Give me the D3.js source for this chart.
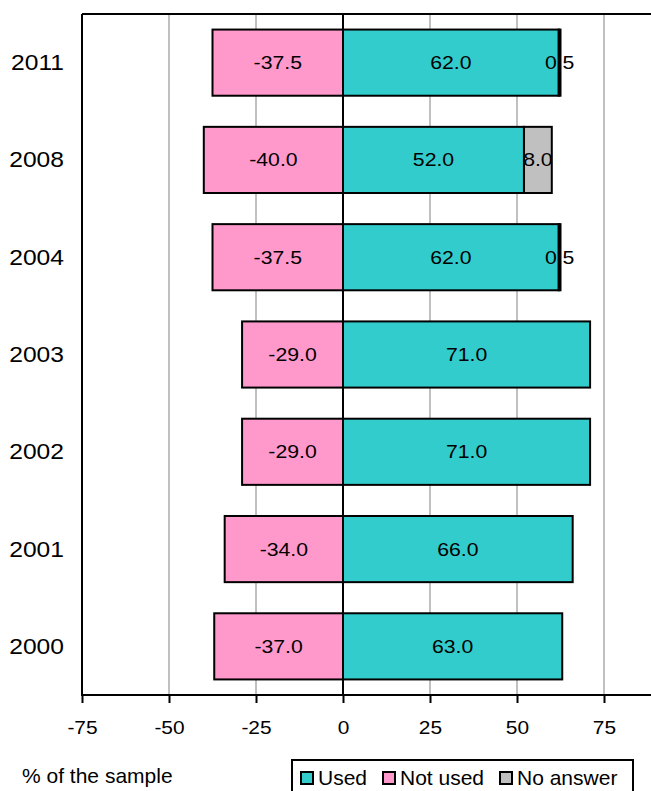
<!DOCTYPE html>
<html><head><meta charset="utf-8">
<script src="https://cdn.jsdelivr.net/npm/d3@7"></script>
<style>body{margin:0;background:#fff}svg{display:block;font-family:"Liberation Sans",Arial,sans-serif}</style>
</head><body>
<svg id="c" width="651" height="791"></svg>
<script>
const years = ["2011","2008","2004","2003","2002","2001","2000"];
const used = [62.0, 52.0, 62.0, 71.0, 71.0, 66.0, 63.0];
const notUsed = [-37.5, -40.0, -37.5, -29.0, -29.0, -34.0, -37.0];
const noAnswer = [0.5, 8.0, 0.5, 0, 0, 0, 0];
const xTicks = [-75, -50, -25, 0, 25, 50, 75];
const seriesNames = ["Used", "Not used", "No answer"];
const colors = {"Used":"#33cccc","Not used":"#ff99cc","No answer":"#c0c0c0"};

const svg = d3.select("#c");
const mLeft = 82, mTop = 14, mBottom = 695;
const x = d3.scaleLinear().domain([-75, 90]).range([mLeft, mLeft + 165 * 3.48]);
const y = d3.scaleBand().domain(years).range([mTop, mBottom]).paddingInner(0.32).paddingOuter(0.16);
const fmt1 = v => d3.format(".1f")(v).replace("\u2212", "-");
const fmt0 = v => d3.format("d")(v).replace("\u2212", "-");

// gridlines
svg.append("g").selectAll("line").data(xTicks.filter(d => d !== 0 && d !== -75)).join("line")
  .attr("x1", d => x(d)).attr("x2", d => x(d)).attr("y1", mTop).attr("y2", mBottom)
  .attr("stroke", "#c0c0c0").attr("stroke-width", 2);

// segments
const segs = [];
years.forEach((yr, i) => {
  segs.push({yr, s:"Not used", x0: notUsed[i], x1: 0, v: notUsed[i]});
  segs.push({yr, s:"Used", x0: 0, x1: used[i], v: used[i]});
  if (noAnswer[i] > 0) segs.push({yr, s:"No answer", x0: used[i], x1: used[i] + noAnswer[i], v: noAnswer[i]});
});

svg.append("g").selectAll("rect").data(segs).join("rect")
  .attr("x", d => x(d.x0)).attr("width", d => x(d.x1) - x(d.x0))
  .attr("y", d => y(d.yr)).attr("height", y.bandwidth())
  .attr("fill", d => colors[d.s]);

svg.append("g").selectAll("text").data(segs).join("text")
  .attr("transform", d => `translate(${(x(d.x0) + x(d.x1)) / 2},${y(d.yr) + y.bandwidth() / 2 + 6.5}) scale(1.18,1)`)
  .attr("text-anchor", "middle").attr("font-size", 18).attr("fill", "#000")
  .text(d => fmt1(d.v));

svg.append("g").selectAll("rect").data(segs).join("rect")
  .attr("x", d => x(d.x0)).attr("width", d => x(d.x1) - x(d.x0))
  .attr("y", d => y(d.yr)).attr("height", y.bandwidth())
  .attr("fill", "none").attr("stroke", "#000").attr("stroke-width", 2);

// frame
svg.append("line").attr("x1", mLeft).attr("x2", 651).attr("y1", mTop).attr("y2", mTop).attr("stroke", "#000").attr("stroke-width", 2);
svg.append("line").attr("x1", mLeft).attr("x2", mLeft).attr("y1", mTop).attr("y2", mBottom).attr("stroke", "#000").attr("stroke-width", 2);
svg.append("line").attr("x1", x(0)).attr("x2", x(0)).attr("y1", mTop).attr("y2", mBottom).attr("stroke", "#000").attr("stroke-width", 2);

// x axis
const ax = svg.append("g").attr("transform", `translate(0,${mBottom})`)
  .call(d3.axisBottom(x).tickValues(xTicks).tickSize(8).tickFormat(fmt0));
ax.select(".domain").remove();
ax.append("line").attr("x1", mLeft - 1).attr("x2", 651).attr("stroke", "#000").attr("stroke-width", 2);
ax.selectAll(".tick line").attr("stroke", "#000").attr("stroke-width", 2);
ax.selectAll(".tick text").attr("y", 0).attr("dy", 0).attr("transform", "translate(0,39) scale(1.1,1)")
  .attr("font-size", 19).attr("fill", "#000").attr("font-family", "Liberation Sans, Arial, sans-serif");

// y labels
svg.append("g").selectAll("text").data(years).join("text")
  .attr("transform", d => `translate(64,${y(d) + y.bandwidth() / 2 + 7.5}) scale(1.12,1)`)
  .attr("text-anchor", "end").attr("font-size", 22).attr("fill", "#000").text(d => d);

// footer
svg.append("text").attr("x", 22).attr("y", 783).attr("font-size", 21).text("% of the sample");

const lg = svg.append("g");
lg.append("rect").attr("x", 292).attr("y", 760).attr("width", 341).attr("height", 40)
  .attr("fill", "#fff").attr("stroke", "#000").attr("stroke-width", 2);
const lx = [301, 383, 500];
seriesNames.forEach((s, i) => {
  lg.append("rect").attr("x", lx[i]).attr("y", 772).attr("width", 12).attr("height", 12)
    .attr("fill", colors[s]).attr("stroke", "#000").attr("stroke-width", 2);
  lg.append("text").attr("x", lx[i] + 17).attr("y", 785).attr("font-size", 21).text(s);
});
</script>
</body></html>
